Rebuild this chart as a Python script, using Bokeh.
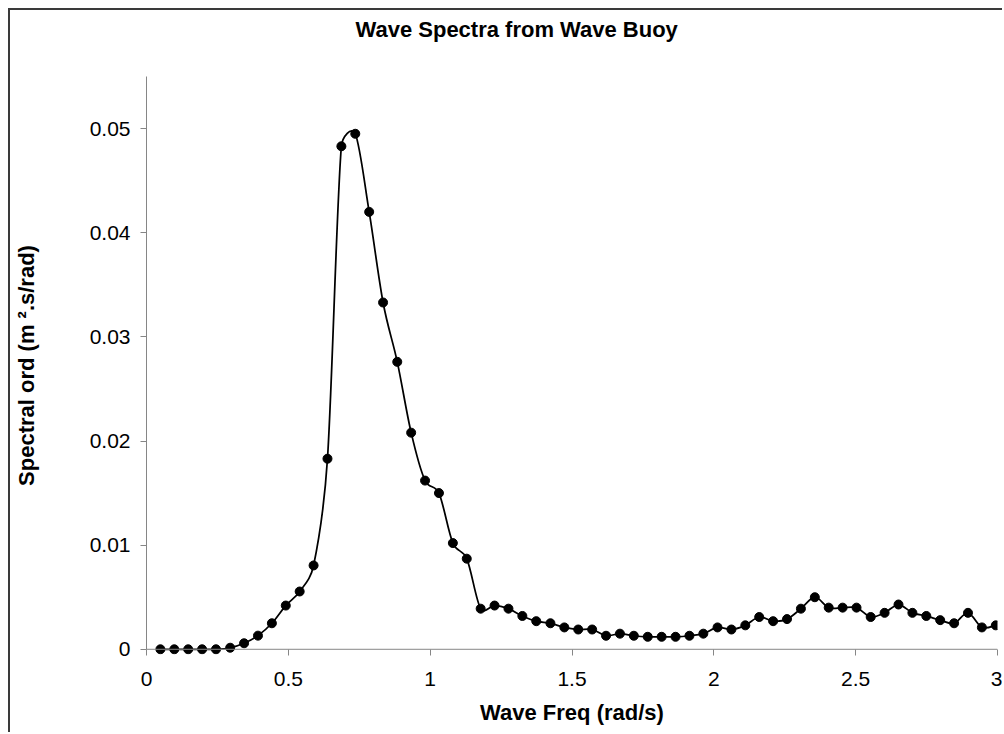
import numpy as np
from bokeh.plotting import figure
from bokeh.models import Range1d, FixedTicker, Title, Span
from bokeh.embed import file_html
from bokeh.resources import INLINE

# ---- data ----
freq = [0.049, 0.098, 0.147, 0.196, 0.245, 0.295, 0.344, 0.393, 0.442, 0.491,
        0.540, 0.589, 0.638, 0.687, 0.736, 0.785, 0.834, 0.884, 0.933, 0.982,
        1.031, 1.080, 1.129, 1.178, 1.227, 1.276, 1.325, 1.374, 1.424, 1.473,
        1.522, 1.571, 1.620, 1.669, 1.718, 1.767, 1.816, 1.865, 1.914, 1.963,
        2.013, 2.062, 2.111, 2.160, 2.209, 2.258, 2.307, 2.356, 2.405, 2.454,
        2.503, 2.553, 2.602, 2.651, 2.700, 2.749, 2.798, 2.847, 2.896, 2.945,
        2.994]
spec = [0.0, 0.0, 0.0, 0.0, 0.0, 0.00015, 0.00058, 0.00131, 0.0025, 0.0042,
        0.00555, 0.00805, 0.0183, 0.0483, 0.0495, 0.0420, 0.0333, 0.0276, 0.0208, 0.0162,
        0.0150, 0.0102, 0.0087, 0.0039, 0.0042, 0.0039, 0.0032, 0.0027, 0.0025, 0.0021,
        0.0019, 0.0019, 0.0013, 0.0015, 0.0013, 0.0012, 0.0012, 0.0012, 0.0013, 0.0015,
        0.0021, 0.0019, 0.0023, 0.0031, 0.0027, 0.0029, 0.0039, 0.0050, 0.0040, 0.0040,
        0.0040, 0.0031, 0.0035, 0.0043, 0.0035, 0.0032, 0.0028, 0.0025, 0.0035, 0.0021,
        0.0023]

x_ticks = [0, 0.5, 1, 1.5, 2, 2.5, 3]
x_tick_labels = ["0", "0.5", "1", "1.5", "2", "2.5", "3"]
y_ticks = [0, 0.01, 0.02, 0.03, 0.04, 0.05]
y_tick_labels = ["0", "0.01", "0.02", "0.03", "0.04", "0.05"]

title_text = "Wave Spectra from Wave Buoy"
x_label_text = "Wave Freq (rad/s)"
y_label_text = "Spectral ord (m \u00b2.s/rad)"

FONT = "Liberation Sans"
AXIS_COL = "#868686"

p = figure(width=994, height=724, output_backend="svg", toolbar_location=None,
           x_range=Range1d(0, 3), y_range=Range1d(-0.0005, 0.055),
           min_border_left=133, min_border_right=7, min_border_top=0,
           min_border_bottom=80, background_fill_color="white",
           border_fill_color="white")
p.styles = {"margin-left": "8px", "margin-top": "8px",
            "border-left": "2px solid #3a3a3a", "border-top": "2px solid #3a3a3a"}
p.outline_line_color = None
p.xgrid.visible = False
p.ygrid.visible = False

# real title (outermost) and a blank spacer title between it and the frame
p.title.text = title_text
p.title.align = "left"
p.title.offset = 209
p.title.vertical_align = "top"
p.title.standoff = 12
p.title.text_font = FONT
p.title.text_font_size = "22px"
p.title.text_font_style = "bold"
p.title.text_color = "black"
p.add_layout(Title(text=" ", text_font_size="1px", standoff=24), "above")

# axes
p.yaxis.bounds = (0, 0.055)
p.xaxis.ticker = FixedTicker(ticks=x_ticks, minor_ticks=[])
p.yaxis.ticker = FixedTicker(ticks=y_ticks, minor_ticks=[])
p.xaxis.major_label_overrides = dict(zip(x_ticks, x_tick_labels))
p.yaxis.major_label_overrides = dict(zip(y_ticks, y_tick_labels))
for ax in (p.xaxis, p.yaxis):
    ax.axis_line_color = AXIS_COL
    ax.axis_line_width = 1
    ax.major_tick_line_color = AXIS_COL
    ax.minor_tick_line_color = None
    ax.major_label_text_font = FONT
    ax.major_label_text_font_size = "21px"
    ax.major_label_text_color = "black"
    ax.axis_label_text_font = FONT
    ax.axis_label_text_font_size = "22px"
    ax.axis_label_text_font_style = "bold"
    ax.axis_label_text_color = "black"
p.yaxis.major_tick_in = 0
p.yaxis.major_tick_out = 6
p.yaxis.major_label_standoff = 10
p.yaxis.axis_label = y_label_text
p.yaxis.axis_label_standoff = 48
# x axis sits at y = 0 (drawn as a span); ticks reach from y=0 to just below frame
p.xaxis.axis_line_color = None
p.xaxis.major_tick_in = 5
p.xaxis.major_tick_out = 1
p.xaxis.major_label_standoff = 16
p.xaxis.axis_label = x_label_text
p.xaxis.axis_label_standoff = 11
p.add_layout(Span(location=0, dimension="width", line_color=AXIS_COL, line_width=1))

# smoothed line: Excel-style bezier segments (handles limited to half segment length)
SX, SY = 284.6, 10392.0   # approximate px per data unit, only for handle limiting
xa = np.array(freq)
ya = np.array(spec)
n = len(xa)

def dist(i, j):
    return np.hypot((xa[i] - xa[j]) * SX, (ya[i] - ya[j]) * SY)

cx0, cy0, cx1, cy1 = [], [], [], []
for i in range(n - 1):
    i0 = i - 1 if i > 0 else i
    i3 = i + 2 if i + 2 < n else i + 1
    d02, d12, d13 = dist(i0, i + 1), dist(i, i + 1), dist(i, i3)
    f = 1.0 / 6.0
    f0 = d12 / d02 / 2 if (d02 > 0 and d02 / 6 >= d12 / 2) else f
    f1 = d12 / d13 / 2 if (d13 > 0 and d13 / 6 >= d12 / 2) else f
    cx0.append(xa[i] + (xa[i + 1] - xa[i0]) * f0)
    cy0.append(ya[i] + (ya[i + 1] - ya[i0]) * f0)
    cx1.append(xa[i + 1] - (xa[i3] - xa[i]) * f1)
    cy1.append(ya[i + 1] - (ya[i3] - ya[i]) * f1)

p.bezier(x0=xa[:-1], y0=ya[:-1], x1=xa[1:], y1=ya[1:],
         cx0=cx0, cy0=cy0, cx1=cx1, cy1=cy1, line_color="black", line_width=1.75)
p.scatter(freq, spec, size=9, fill_color="black", line_color="black")

open("out.html", "w").write(file_html(p, INLINE))
